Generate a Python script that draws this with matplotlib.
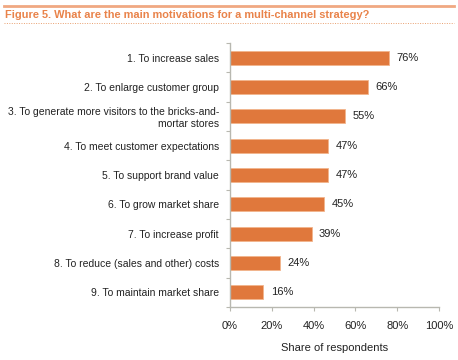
import numpy as np
import matplotlib.pyplot as plt
from matplotlib.ticker import FixedLocator, PercentFormatter

plt.rcParams['font.family'] = ['Liberation Sans', 'DejaVu Sans']

labels = ["1. To increase sales",
          "2. To enlarge customer group",
          "3. To generate more visitors to the bricks-and-\nmortar stores",
          "4. To meet customer expectations",
          "5. To support brand value",
          "6. To grow market share",
          "7. To increase profit",
          "8. To reduce (sales and other) costs",
          "9. To maintain market share"]
shares = [76, 66, 55, 47, 47, 45, 39, 24, 16]

orange = "#E0783C"
title_orange = "#E9834A"
grey = "#B8B8B0"

fig = plt.figure(figsize=(4.58, 3.6), dpi=100)
ax = fig.add_axes([230 / 458, 1 - 307 / 360, 209 / 458, 264 / 360])

y = np.arange(len(labels))
ax.barh(y, shares, height=0.48, color=orange, edgecolor="#F2B48C", linewidth=0.6)
for yi, v in zip(y, shares):
    ax.text(v + 3.5, yi, f"{v}%", va="center", ha="left", fontsize=8, color="#222222")

ax.set_ylim(len(labels) - 0.5, -0.5)
ax.set_xlim(0, 100)
ax.set_yticks(y)
ax.set_yticklabels(labels, fontsize=7.5, color="#222222")
ax.tick_params(axis="y", length=0, pad=8)
ax.yaxis.set_minor_locator(FixedLocator(np.arange(-0.5, len(labels), 1)))
ax.tick_params(axis="y", which="minor", length=3, color=grey, width=0.8)

ax.set_xticks(np.arange(0, 101, 20))
ax.xaxis.set_major_formatter(PercentFormatter(decimals=0))
ax.tick_params(axis="x", length=3, color=grey, width=0.8, labelsize=8, pad=7, labelcolor="#222222")
ax.set_xlabel("Share of respondents", fontsize=8, labelpad=9, color="#222222")

for s in ["top", "right"]:
    ax.spines[s].set_visible(False)
for s in ["left", "bottom"]:
    ax.spines[s].set_color(grey)
    ax.spines[s].set_linewidth(1.0)

# header: orange rule, title, dotted rule
fig.add_artist(plt.Line2D([0.008, 0.992], [1 - 6 / 360, 1 - 6 / 360], color="#F0A882", lw=2))
fig.text(0.01, 1 - 15.5 / 360, "Figure 5. What are the main motivations for a multi-channel strategy?",
         fontsize=7.9, fontweight="bold", color=title_orange, va="center", ha="left")
fig.add_artist(plt.Line2D([0.008, 0.992], [1 - 23 / 360, 1 - 23 / 360], color="#E9A070", lw=0.7, ls=(0, (1, 1.5))))

plt.savefig("out.png", dpi=100)
